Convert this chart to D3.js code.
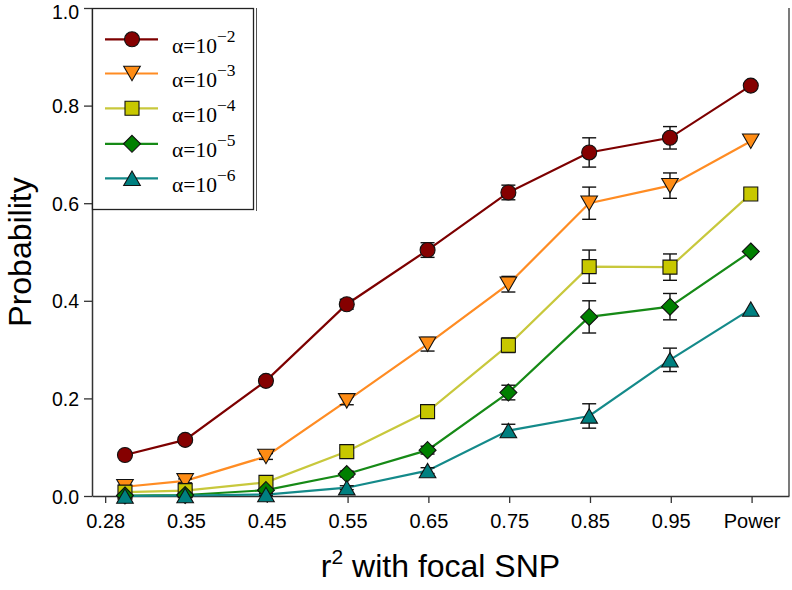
<!DOCTYPE html>
<html>
<head>
<meta charset="utf-8">
<script src="https://cdn.jsdelivr.net/npm/d3@7"></script>
<style>
  html, body { margin: 0; padding: 0; background: #fff; }
  svg { display: block; }
</style>
</head>
<body>
<svg id="chart" width="792" height="590"></svg>
<script>
// ---------------- data ----------------
const categories = ["0.28", "0.35", "0.45", "0.55", "0.65", "0.75", "0.85", "0.95", "Power"];
const tickPositions = [0.25, 0.35, 0.45, 0.55, 0.65, 0.75, 0.85, 0.95, 1.05];
const pointPositions = [0.2745, 0.349, 0.449, 0.549, 0.649, 0.749, 0.849, 0.949, 1.049];

const alpha2 = [0.084, 0.115, 0.236, 0.393, 0.504, 0.622, 0.704, 0.734, 0.841];
const alpha2Err = [0.004, 0.006, 0.008, 0.010, 0.015, 0.015, 0.030, 0.023, 0];
const alpha3 = [0.019, 0.031, 0.081, 0.195, 0.311, 0.434, 0.600, 0.636, 0.727];
const alpha3Err = [0.003, 0.004, 0.006, 0.008, 0.014, 0.016, 0.033, 0.026, 0];
const alpha4 = [0.008, 0.011, 0.028, 0.091, 0.173, 0.309, 0.470, 0.469, 0.619];
const alpha4Err = [0.002, 0.003, 0.005, 0.007, 0.010, 0.015, 0.034, 0.027, 0];
const alpha5 = [0.001, 0.002, 0.012, 0.045, 0.094, 0.212, 0.367, 0.388, 0.501];
const alpha5Err = [0.001, 0.001, 0.003, 0.006, 0.008, 0.015, 0.033, 0.027, 0];
const alpha6 = [0.000, 0.001, 0.003, 0.017, 0.052, 0.134, 0.164, 0.279, 0.383];
const alpha6Err = [0.001, 0.001, 0.002, 0.004, 0.006, 0.013, 0.025, 0.024, 0];

const seriesExponents = ["2", "3", "4", "5", "6"];
const yTicks = [0.0, 0.2, 0.4, 0.6, 0.8, 1.0];

// ---------------- styles ----------------
const series = [
  { exp: seriesExponents[0], values: alpha2, err: alpha2Err, line: "#7d0000", fill: "#850000", shape: "circle" },
  { exp: seriesExponents[1], values: alpha3, err: alpha3Err, line: "#ff8c23", fill: "#ff8c14", shape: "tridown" },
  { exp: seriesExponents[2], values: alpha4, err: alpha4Err, line: "#c8c83c", fill: "#c8c800", shape: "square" },
  { exp: seriesExponents[3], values: alpha5, err: alpha5Err, line: "#168a16", fill: "#008000", shape: "diamond" },
  { exp: seriesExponents[4], values: alpha6, err: alpha6Err, line: "#148a8a", fill: "#008080", shape: "triup" }
];

const svg = d3.select("#chart");
const pLeft = 92, pRight = 789, pTop = 8, pBottom = 496;

const x = d3.scaleLinear().domain([0.2337, 1.0963]).range([pLeft, pRight]);
const y = d3.scaleLinear().domain([0, 1]).range([pBottom, pTop]);

function markerPath(shape) {
  switch (shape) {
    case "circle": { const r = 7.5; return `M${-r},0A${r},${r} 0 1,0 ${r},0A${r},${r} 0 1,0 ${-r},0Z`; }
    case "square": { const s = 7; return `M${-s},${-s}L${s},${-s}L${s},${s}L${-s},${s}Z`; }
    case "diamond": { const w = 8.5, h = 8.5; return `M0,${-h}L${w},0L0,${h}L${-w},0Z`; }
    case "tridown": { const w = 8.3, h = 7.2; return `M${-w},${-h}L${w},${-h}L0,${h}Z`; }
    case "triup": { const w = 8.3, h = 7.2; return `M${-w},${h}L${w},${h}L0,${-h}Z`; }
  }
}

// ---------------- axes ----------------
const xAxis = d3.axisBottom(x)
  .tickValues(tickPositions)
  .tickFormat((d, i) => categories[i])
  .tickSizeInner(7).tickSizeOuter(0).tickPadding(11);
const gx = svg.append("g").attr("transform", `translate(0,${pBottom})`).call(xAxis);
gx.select(".domain").attr("stroke", "#333").attr("stroke-width", 1.5);
gx.selectAll(".tick line").attr("stroke", "#333").attr("stroke-width", 1.3);
gx.selectAll(".tick text").attr("font-family", "Liberation Sans, Arial, sans-serif")
  .attr("font-size", 20).attr("fill", "#000");

const yAxis = d3.axisLeft(y)
  .tickValues(yTicks)
  .tickFormat(d3.format(".1f"))
  .tickSizeInner(8).tickSizeOuter(0).tickPadding(5);
const gy = svg.append("g").attr("transform", `translate(${pLeft},0)`).call(yAxis);
gy.select(".domain").attr("stroke", "#333").attr("stroke-width", 1.5);
gy.selectAll(".tick line").attr("stroke", "#333").attr("stroke-width", 1.3);
gy.selectAll(".tick text").attr("font-family", "Liberation Sans, Arial, sans-serif")
  .attr("font-size", 19.5).attr("fill", "#000")
  .attr("dy", d => d === 1 ? "0.52em" : "0.36em");

// right frame line
svg.append("line").attr("x1", pRight).attr("x2", pRight).attr("y1", pTop).attr("y2", pBottom)
  .attr("stroke", "#333").attr("stroke-width", 1.3);

// ---------------- series ----------------
const lineGen = d3.line().x((d, i) => x(pointPositions[i])).y(d => y(d));

series.forEach(s => {
  svg.append("path").datum(s.values)
    .attr("d", lineGen)
    .attr("fill", "none")
    .attr("stroke", s.line)
    .attr("stroke-width", 2.2);
});

series.forEach(s => {
  const g = svg.append("g");
  s.values.forEach((v, i) => {
    const e = s.err[i];
    if (e <= 0) return;
    const cx = x(pointPositions[i]);
    g.append("line").attr("x1", cx).attr("x2", cx).attr("y1", y(v - e)).attr("y2", y(v + e))
      .attr("stroke", "#111").attr("stroke-width", 1.4);
    [v - e, v + e].forEach(t => {
      g.append("line").attr("x1", cx - 7).attr("x2", cx + 7).attr("y1", y(t)).attr("y2", y(t))
        .attr("stroke", "#111").attr("stroke-width", 1.4);
    });
  });
});

series.forEach(s => {
  svg.append("g").selectAll("path").data(s.values).join("path")
    .attr("d", markerPath(s.shape))
    .attr("transform", (d, i) => `translate(${x(pointPositions[i])},${y(d)})`)
    .attr("fill", s.fill)
    .attr("stroke", "#111")
    .attr("stroke-width", 1.1);
});

// ---------------- axis titles ----------------
const xt = svg.append("text")
  .attr("x", (pLeft + pRight) / 2).attr("y", 577)
  .attr("text-anchor", "middle")
  .attr("font-family", "Liberation Sans, Arial, sans-serif")
  .attr("font-size", 32).attr("fill", "#000");
xt.append("tspan").text("r");
xt.append("tspan").attr("font-size", 21).attr("dy", -13).text("2");
xt.append("tspan").attr("dy", 13).text(" with focal SNP");

svg.append("text")
  .attr("transform", `translate(31,${(pTop + pBottom) / 2}) rotate(-90)`)
  .attr("text-anchor", "middle")
  .attr("font-family", "Liberation Sans, Arial, sans-serif")
  .attr("font-size", 32).attr("fill", "#000")
  .text("Probability");

// ---------------- legend ----------------
const legend = svg.append("g");
legend.append("rect").attr("x", 92.5).attr("y", 8.5).attr("width", 161).attr("height", 201)
  .attr("fill", "#fff").attr("stroke", "#222").attr("stroke-width", 1.3);
legend.append("line").attr("x1", 256.5).attr("x2", 256.5).attr("y1", 8).attr("y2", 211)
  .attr("stroke", "#555").attr("stroke-width", 1);

const legendY = [39.3, 73.5, 108.3, 143.8, 178.3];
series.forEach((s, i) => {
  const ly = legendY[i];
  legend.append("line").attr("x1", 105).attr("x2", 158).attr("y1", ly).attr("y2", ly)
    .attr("stroke", s.line).attr("stroke-width", 2.2);
  legend.append("path").attr("d", markerPath(s.shape))
    .attr("transform", `translate(132,${ly})`)
    .attr("fill", s.fill).attr("stroke", "#111").attr("stroke-width", 1.1);
  const t = legend.append("text").attr("x", 172).attr("y", ly + 13.5)
    .attr("font-family", "Liberation Serif, Times New Roman, serif")
    .attr("font-size", 21.5).attr("fill", "#000");
  t.append("tspan").text("\u03B1=10");
  t.append("tspan").attr("font-size", 17.5).attr("dy", -11).text("\u2212" + s.exp);
});
</script>
</body>
</html>
